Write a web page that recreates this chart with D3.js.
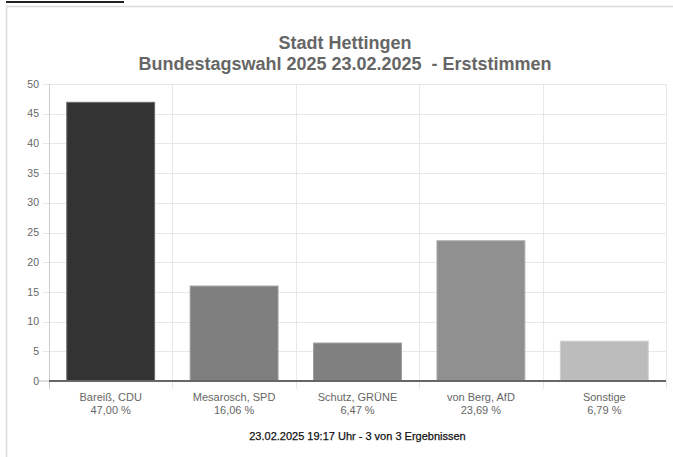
<!DOCTYPE html>
<html><head><meta charset="utf-8">
<script src="https://cdn.jsdelivr.net/npm/d3@7"></script>
<style>
html,body{margin:0;padding:0;background:#fff;}
svg{display:block;font-family:"Liberation Sans",Arial,Helvetica,sans-serif;}
</style></head>
<body>
<svg id="c" width="673" height="457"></svg>
<script>
const titleLines = ["Stadt Hettingen", "Bundestagswahl 2025 23.02.2025  - Erststimmen"];
const candidates = ["Bareiß, CDU", "Mesarosch, SPD", "Schutz, GRÜNE", "von Berg, AfD", "Sonstige"];
const percents = [47.00, 16.06, 6.47, 23.69, 6.79];
const percentLabels = ["47,00 %", "16,06 %", "6,47 %", "23,69 %", "6,79 %"];
const barColors = ["#333333", "#7f7f7f", "#808080", "#909090", "#bcbcbc"];
const barBorders = ["#6a6a6a", "#9a9a9a", "#9a9a9a", "#a8a8a8", "#cfcfcf"];
const yTicks = [0, 5, 10, 15, 20, 25, 30, 35, 40, 45, 50];
const footer = "23.02.2025 19:17 Uhr - 3 von 3 Ergebnissen";

const svg = d3.select("#c");
svg.append("line").attr("x1",6).attr("x2",124).attr("y1",2).attr("y2",2)
  .attr("stroke","#222").attr("stroke-width",2);
svg.append("path").attr("d","M6.5,460 V6.5 H680")
  .attr("fill","none").attr("stroke","#dcdcdc").attr("stroke-width",1.5);

const pL = 49, pR = 666, pT = 84, pB = 381;
const x = d3.scaleBand().domain(candidates).range([pL, pR]).padding(0);
const y = d3.scaleLinear().domain([0, 50]).range([pB, pT]);

svg.append("g").selectAll("line").data(yTicks.filter(d=>d>0)).join("line")
  .attr("x1", pL-6).attr("x2", pR).attr("y1", d=>Math.round(y(d))+0.5).attr("y2", d=>Math.round(y(d))+0.5)
  .attr("stroke", "#e8e8e8").attr("stroke-width",1);
const vx = candidates.map(c=>x(c)).slice(1).concat([pR]);
svg.append("g").selectAll("line").data(vx).join("line")
  .attr("x1", d=>Math.round(d)+0.5).attr("x2", d=>Math.round(d)+0.5)
  .attr("y1", pT).attr("y2", pB+8)
  .attr("stroke", "#e8e8e8");
svg.append("line").attr("x1",pL+0.5).attr("x2",pL+0.5).attr("y1",pT).attr("y2",pB+8)
  .attr("stroke","#cccccc");
svg.append("line").attr("x1",pL-10).attr("x2",pL).attr("y1",y(0)).attr("y2",y(0))
  .attr("stroke","#bbbbbb");

svg.append("g").selectAll("text").data(yTicks).join("text")
  .attr("x", pL-10).attr("y", d=>y(d)).attr("dy","0.35em")
  .attr("text-anchor","end").attr("font-size","10.5px").attr("fill","#666")
  .text(d=>d);

const bw = x.bandwidth()*0.72;
svg.append("g").selectAll("rect").data(candidates).join("rect")
  .attr("x", d=>x(d)+x.bandwidth()/2-bw/2+0.5)
  .attr("y", (d,i)=>y(percents[i])+0.5)
  .attr("width", bw-1)
  .attr("height", (d,i)=>y(0)-y(percents[i]))
  .attr("fill", (d,i)=>barColors[i])
  .attr("stroke", (d,i)=>barBorders[i]).attr("stroke-width",1);

svg.append("line").attr("x1",pL).attr("x2",pR).attr("y1",y(0)).attr("y2",y(0))
  .attr("stroke","#666").attr("stroke-width",2);

const xl = svg.append("g").selectAll("text").data(candidates).join("text")
  .attr("text-anchor","middle").attr("font-size","11px").attr("fill","#666");
xl.append("tspan").attr("x", d=>x(d)+x.bandwidth()/2).attr("y",401).text(d=>d);
xl.append("tspan").attr("x", d=>x(d)+x.bandwidth()/2).attr("y",414).text((d,i)=>percentLabels[i]);

svg.append("g").selectAll("text").data(titleLines).join("text")
  .attr("x", 345).attr("y",(d,i)=>49+i*21).attr("text-anchor","middle")
  .attr("font-size","18px").attr("font-weight","bold").attr("fill","#666")
  .style("white-space","pre").text(d=>d);

svg.append("text").attr("x",(pL+pR)/2).attr("y",440).attr("text-anchor","middle")
  .attr("font-size","11px").attr("fill","#111").attr("stroke","#111").attr("stroke-width",0.25)
  .text(footer);
</script>
</body></html>
